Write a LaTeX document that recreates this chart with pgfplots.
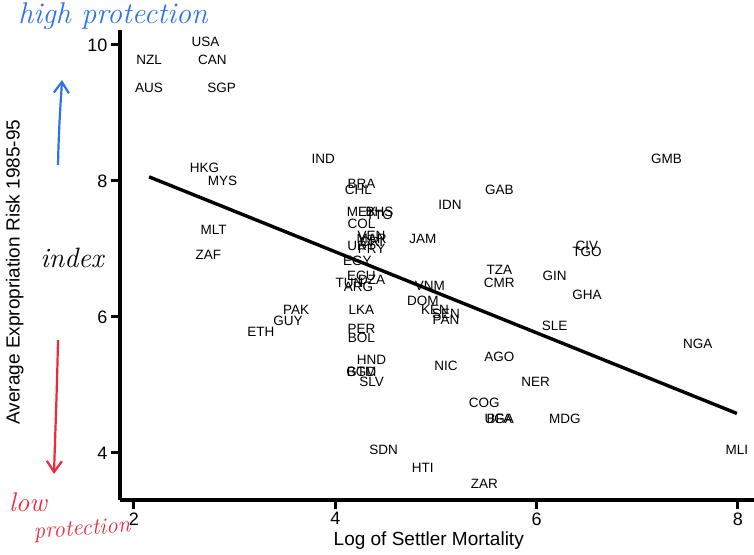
\documentclass[border=0pt]{standalone}
\usepackage{fontspec}
\setsansfont{Liberation Sans}
\usepackage{pgfplots}
\pgfplotsset{compat=1.18}
\usetikzlibrary{arrows.meta}
\definecolor{handblue}{RGB}{45,115,235}
\definecolor{handred}{RGB}{240,40,60}
\newcommand{\hand}[1]{\rmfamily\itshape\fontsize{#1}{#1}\selectfont}

\begin{document}
\sffamily
\begin{tikzpicture}
\path[use as bounding box] (-120pt,-54pt) rectangle (634pt,500pt);
\begin{axis}[
    scale only axis,
    width=634pt, height=470pt,
    xmin=1.861, xmax=8.16,
    ymin=3.307, ymax=10.22,
    axis x line*=bottom, axis y line*=left,
    axis line style={line width=3.6pt, -},
    xtick={2,4,6,8}, ytick={4,6,8,10},
    tick align=outside,
    major tick length=9pt,
    every tick/.style={black, line width=3pt},
    tick label style={font=\sffamily\fontsize{18}{18}\selectfont},
    /pgf/number format/assume math mode=true,
    xlabel={Log of Settler Mortality},
    ylabel={Average Expropriation Risk 1985-95},
    every axis x label/.style={at={(axis description cs:0.487,-0.087)}, anchor=center,
        font=\sffamily\fontsize{19}{19}\selectfont},
    every axis y label/.style={at={(axis description cs:-0.166,0.485)}, anchor=center,
        rotate=90, font=\sffamily\fontsize{19}{19}\selectfont},
    clip=false,
]
% country codes, placed on the points
\addplot[only marks, mark=none,
    nodes near coords, point meta=explicit symbolic,
    every node near coord/.style={anchor=center, inner sep=0pt, yshift=3.5pt,
        font=\sffamily\fontsize{13.5}{13.5}\selectfont, black}]
    table[meta=lab] {
x y lab
2.15 9.73 NZL
2.71 10.00 USA
2.78 9.73 CAN
2.15 9.32 AUS
2.87 9.32 SGP
2.70 8.14 HKG
2.88 7.95 MYS
3.88 8.27 IND
2.79 7.23 MLT
2.74 6.86 ZAF
3.61 6.05 PAK
3.53 5.89 GUY
3.26 5.73 ETH
4.26 7.91 BRA
4.23 7.82 CHL
4.26 7.50 MEX
4.44 7.50 BHS
4.44 7.45 TTO
4.26 7.32 COL
4.36 7.14 VEN
4.36 7.09 MAR
4.36 7.05 CRI
4.26 7.00 URY
4.36 6.95 PRY
4.22 6.77 EGY
4.26 6.55 ECU
4.36 6.50 DZA
4.14 6.45 TUN
4.23 6.39 ARG
4.26 6.05 LKA
4.26 5.77 PER
4.26 5.64 BOL
4.36 5.32 HND
4.26 5.14 GTM
4.26 5.14 BGD
4.36 5.00 SLV
4.48 4.00 SDN
4.87 3.73 HTI
5.48 3.50 ZAR
5.14 7.59 IDN
4.87 7.09 JAM
4.94 6.41 VNM
4.87 6.18 DOM
4.99 6.05 KEN
5.10 6.00 SEN
5.10 5.91 PAN
5.10 5.23 NIC
5.63 7.82 GAB
5.63 6.64 TZA
5.63 6.45 CMR
5.63 5.36 AGO
5.48 4.68 COG
5.63 4.45 BFA
5.63 4.45 UGA
5.99 5.00 NER
6.28 4.45 MDG
6.18 6.55 GIN
6.50 7.00 CIV
6.50 6.91 TGO
6.50 6.27 GHA
6.18 5.82 SLE
7.29 8.27 GMB
7.60 5.55 NGA
7.99 4.00 MLI
};
% fitted line
\addplot[black, line width=3.4pt] coordinates {(2.15,8.06) (7.99,4.58)};
\end{axis}
% hand-written notes
\node[handblue, anchor=center] at (-7pt,484pt) {\hand{30}high protection};
\draw[handblue, line width=2.2pt, -{Straight Barb[length=11pt,width=15pt]}]
    (-62pt,335pt) .. controls (-61pt,380pt) and (-59pt,400pt) .. (-58pt,420pt);
\node[black, anchor=center] at (-48pt,242pt) {\hand{28}index};
\draw[handred, line width=2.2pt, -{Straight Barb[length=11pt,width=15pt]}]
    (-62pt,160pt) .. controls (-63pt,110pt) and (-65pt,60pt) .. (-66pt,26pt);
\node[handred, anchor=center] at (-92pt,-2pt) {\hand{27}low};
\node[handred, anchor=center, rotate=4] at (-38pt,-30pt) {\hand{23}protection};
\end{tikzpicture}
\end{document}
